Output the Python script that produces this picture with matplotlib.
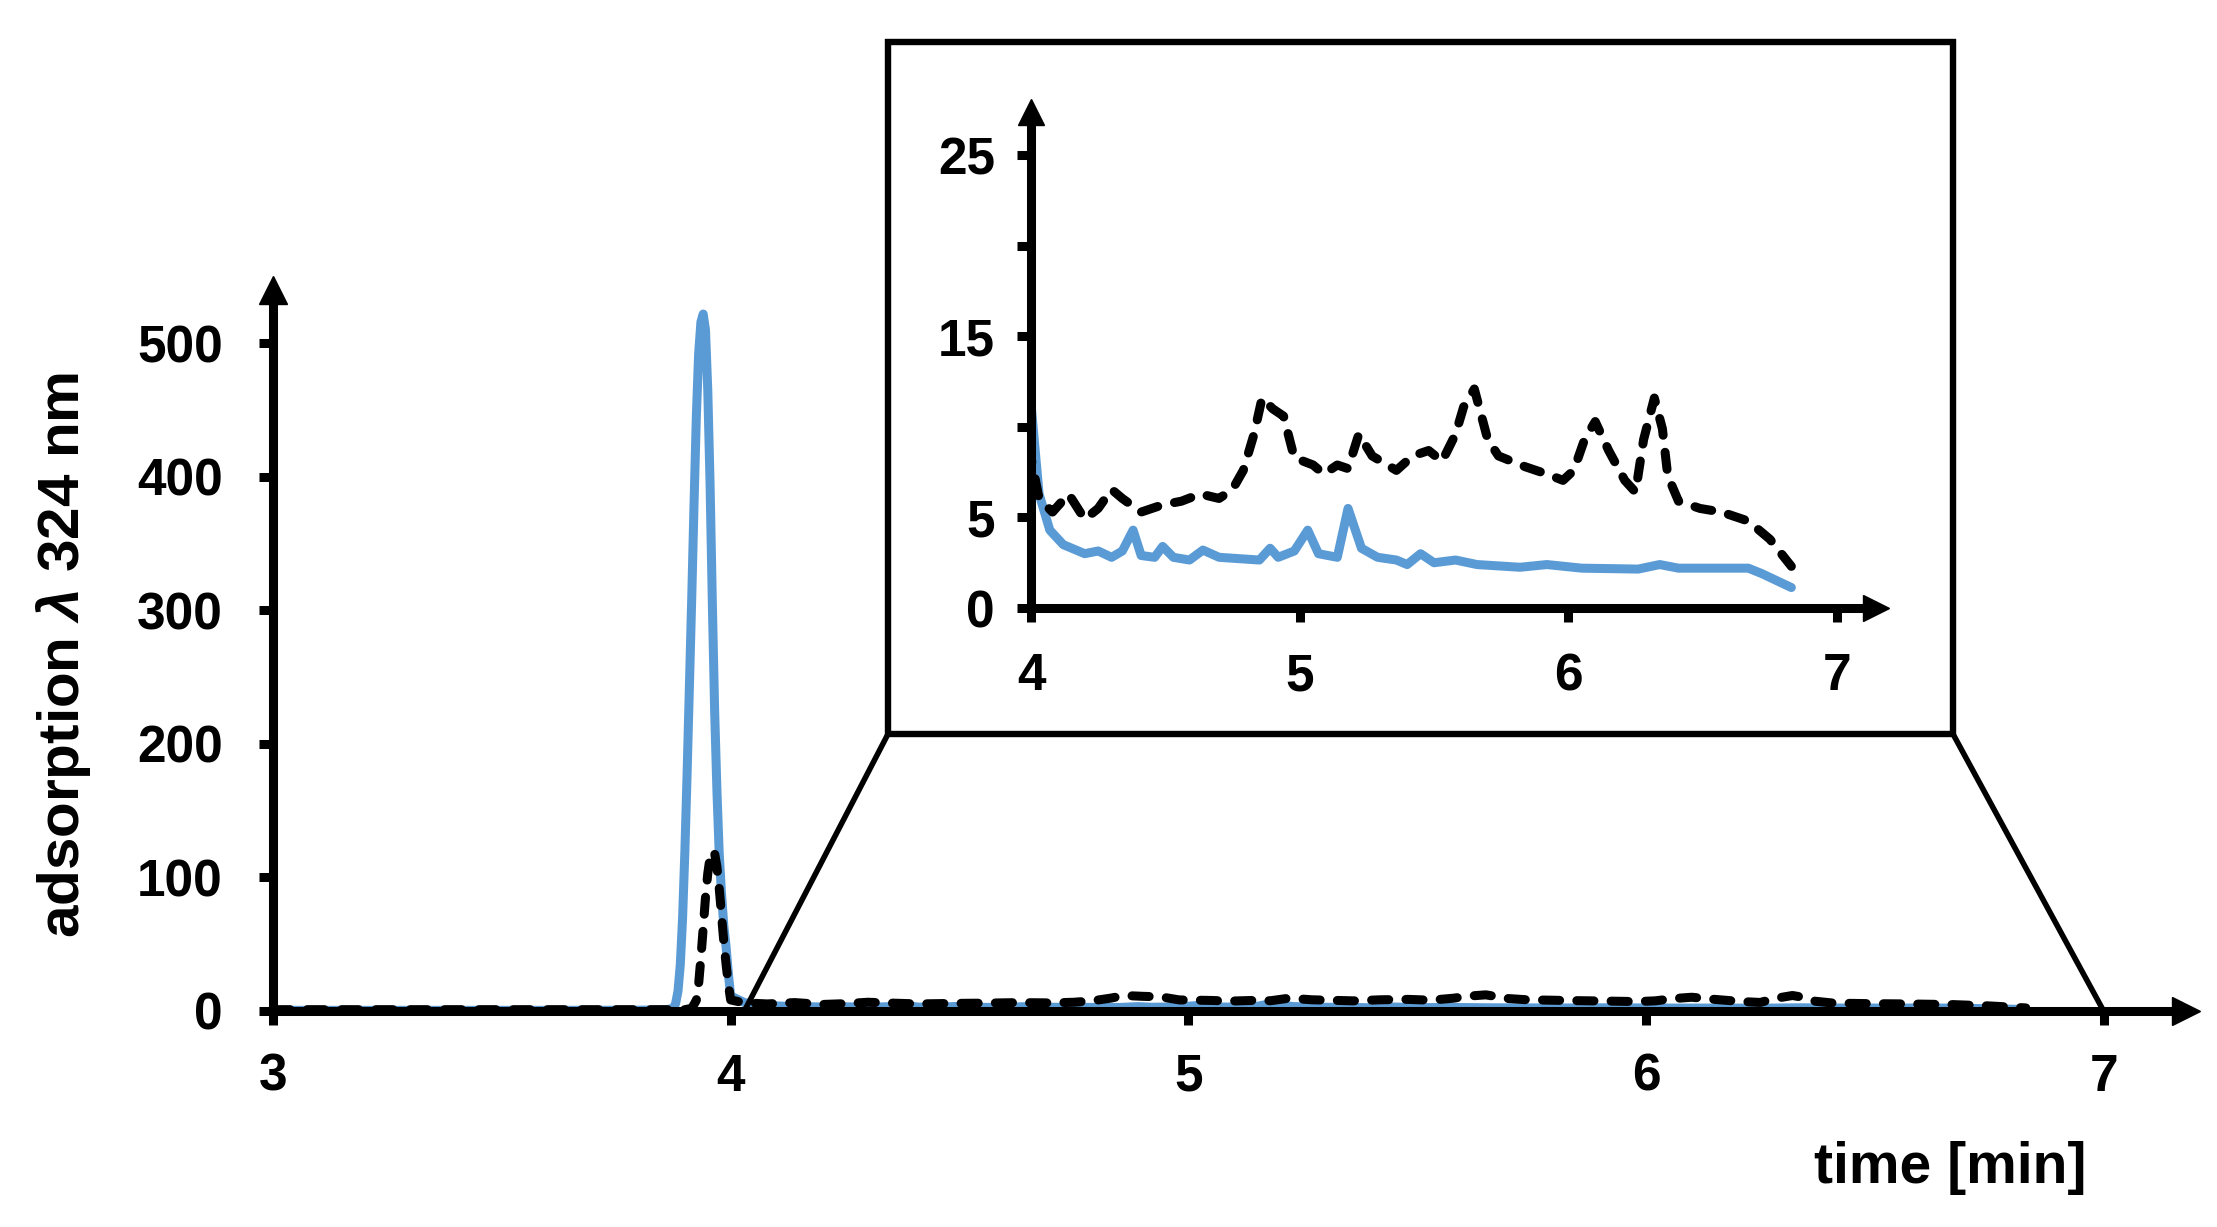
"""
Chromatogram at 324 nm with a zoomed inset of the 4-7 min region.
"""
import matplotlib
matplotlib.use('Agg')
import matplotlib.pyplot as plt
from matplotlib.patches import Rectangle, ConnectionPatch

plt.rcParams['font.family'] = ['Liberation Sans', 'DejaVu Sans']
plt.rcParams['font.weight'] = 'bold'
plt.rcParams['mathtext.fontset'] = 'custom'
plt.rcParams['mathtext.it'] = 'Liberation Sans:italic:bold'
plt.rcParams['mathtext.rm'] = 'Liberation Sans:bold'

BLUE = '#5b9bd5'

# blue trace (solid)
blue_t = [3.00, 3.20, 3.40, 3.60, 3.80, 3.86, 3.875, 3.88, 3.885, 3.89, 3.895,
          3.90, 3.905, 3.91, 3.915, 3.92, 3.925, 3.93, 3.935, 3.94, 3.945,
          3.95, 3.955, 3.96, 3.965, 3.97, 3.975, 3.98, 3.985, 3.99, 3.995,
          4.00, 4.03, 4.07, 4.12, 4.20, 4.25, 4.30, 4.34, 4.38, 4.41, 4.46,
          4.49, 4.53, 4.59, 4.64, 4.70, 4.85, 4.89, 4.92, 4.98, 5.03, 5.07,
          5.14, 5.18, 5.23, 5.29, 5.36, 5.40, 5.45, 5.50, 5.58, 5.66, 5.82,
          5.92, 6.05, 6.26, 6.34, 6.41, 6.67, 6.72, 6.83]
blue_y = [0.5, 0.5, 0.5, 0.5, 0.6, 1, 2, 6, 15, 35, 70,
          120, 180, 245, 310, 380, 445, 492, 516, 522, 510,
          465, 395, 305, 225, 165, 118, 88, 64, 48, 28,
          11.3, 6.3, 4.3, 3.5, 3.0, 3.15, 2.8, 3.15, 4.3, 2.9, 2.8,
          3.4, 2.8, 2.65, 3.2, 2.8, 2.65, 3.3, 2.8, 3.15, 4.3, 3.0,
          2.8, 5.5, 3.3, 2.8, 2.65, 2.4, 3.0, 2.5, 2.65, 2.4, 2.25,
          2.4, 2.2, 2.15, 2.4, 2.2, 2.2, 1.9, 1.13]

# black trace (dashed)
black_t = [3.00, 3.20, 3.40, 3.60, 3.80, 3.90, 3.915, 3.925, 3.93, 3.935, 3.94,
           3.945, 3.95, 3.955, 3.96, 3.965, 3.97, 3.975, 3.98, 3.985, 3.99,
           3.995,
           4.00, 4.03, 4.08, 4.14, 4.20, 4.25, 4.30, 4.34, 4.41, 4.49, 4.56,
           4.63, 4.70, 4.75, 4.79, 4.83, 4.86, 4.90, 4.94, 4.98, 5.05, 5.09,
           5.14, 5.18, 5.22, 5.27, 5.36, 5.42, 5.48, 5.53, 5.58, 5.61, 5.65,
           5.70, 5.74, 5.84, 5.92, 5.98, 6.02, 6.06, 6.10, 6.15, 6.21, 6.25,
           6.28, 6.32, 6.35, 6.37, 6.41, 6.49, 6.57, 6.67, 6.75, 6.83]
black_y = [1, 1, 1, 1, 1, 1, 2, 8, 20, 40, 62,
           85, 103, 115, 120, 118, 108, 92, 72, 52, 35,
           20,
           8.3, 6.05, 5.3, 6.3, 4.9, 5.5, 6.55, 6.05, 5.3, 5.7, 5.9,
           6.3, 6.05, 6.55, 7.6, 9.6, 11.6, 11.0, 10.6, 8.3, 7.9, 7.4,
           7.9, 7.7, 9.6, 8.4, 7.6, 8.4, 8.7, 8.1, 9.6, 11.1, 12.1,
           9.3, 8.4, 7.8, 7.4, 7.05, 7.6, 9.3, 10.3, 8.7, 7.05, 6.4,
           9.3, 11.6, 9.9, 7.3, 5.9, 5.5, 5.3, 4.8, 3.8, 2.3]

main_xticks = [3, 4, 5, 6, 7]
main_yticks = [0, 100, 200, 300, 400, 500]
inset_xticks = [4, 5, 6, 7]
inset_yticks = [0, 5, 10, 15, 20, 25]
inset_ylabels = ['0', '5', '', '15', '', '25']

ZOOM_FROM = 4.03
ZOOM_TO = 7.0

W, H = 2217, 1227
fig = plt.figure(figsize=(W / 100, H / 100), dpi=100)

LW_AX = 6.5
LW_BLUE = 6.5
LW_BLACK = 6.5
TICK_FS = 37


def draw_traces(ax):
    ax.plot(blue_t, blue_y, color=BLUE, lw=LW_BLUE, solid_joinstyle='round',
            solid_capstyle='round', zorder=2)
    ax.plot(black_t, black_y, color='black', lw=LW_BLACK, dashes=(1.9, 1.9),
            dash_capstyle='round', dash_joinstyle='round', zorder=3)


def style_axes(ax, ms, ticklen, xpad, ypad):
    for s in ['top', 'right']:
        ax.spines[s].set_visible(False)
    for s in ['left', 'bottom']:
        ax.spines[s].set_linewidth(LW_AX)
    ax.set_facecolor('none')
    ax.tick_params(width=LW_AX, length=ticklen, direction='out', labelsize=TICK_FS)
    ax.tick_params(axis='x', pad=xpad)
    ax.tick_params(axis='y', pad=ypad)
    ax.plot(1, 0, '>k', ms=ms, transform=ax.transAxes, clip_on=False)
    ax.plot(0, 1, '^k', ms=ms, transform=ax.transAxes, clip_on=False)


# main axes
ax = fig.add_axes([273 / W, 1 - 1011 / H, (2186 - 273) / W, (1011 - 290) / H])
draw_traces(ax)
ax.set_xlim(3, 7.18)
ax.set_ylim(0, 540)
ax.set_xticks(main_xticks)
ax.set_yticks(main_yticks)
style_axes(ax, 19.5, 10, 20, 26)

fig.text(64 / W, 1 - 655 / H, r'adsorption $λ$ 324 nm', rotation=90,
         ha='center', va='center', fontsize=42, fontweight='bold')
fig.text(2086 / W, 1 - 1168 / H, 'time [min]', ha='right', va='center',
         fontsize=41, fontweight='bold')

# inset frame
bx0, by0, bx1, by1 = 888 / W, 1 - 734 / H, 1953 / W, 1 - 42 / H
fig.add_artist(Rectangle((bx0, by0), bx1 - bx0, by1 - by0, transform=fig.transFigure,
                         facecolor='white', edgecolor='black', lw=4.6, zorder=5))
for corner, xd in [((bx0, by0), ZOOM_FROM), ((bx1, by0), ZOOM_TO)]:
    con = ConnectionPatch(xyA=corner, coordsA=fig.transFigure,
                          xyB=(xd, 0), coordsB=ax.transData,
                          color='black', lw=4.0)
    fig.add_artist(con)

# inset axes
axi = fig.add_axes([1031 / W, 1 - 608 / H, (1876 - 1031) / W, (608 - 112) / H], zorder=6)
draw_traces(axi)
axi.set_xlim(4, 7.145)
axi.set_ylim(0, 27.4)
axi.set_xticks(inset_xticks)
axi.set_yticks(inset_yticks)
axi.set_yticklabels(inset_ylabels)
style_axes(axi, 19, 10, 22, 16)

fig.savefig('out.png', dpi=100)
